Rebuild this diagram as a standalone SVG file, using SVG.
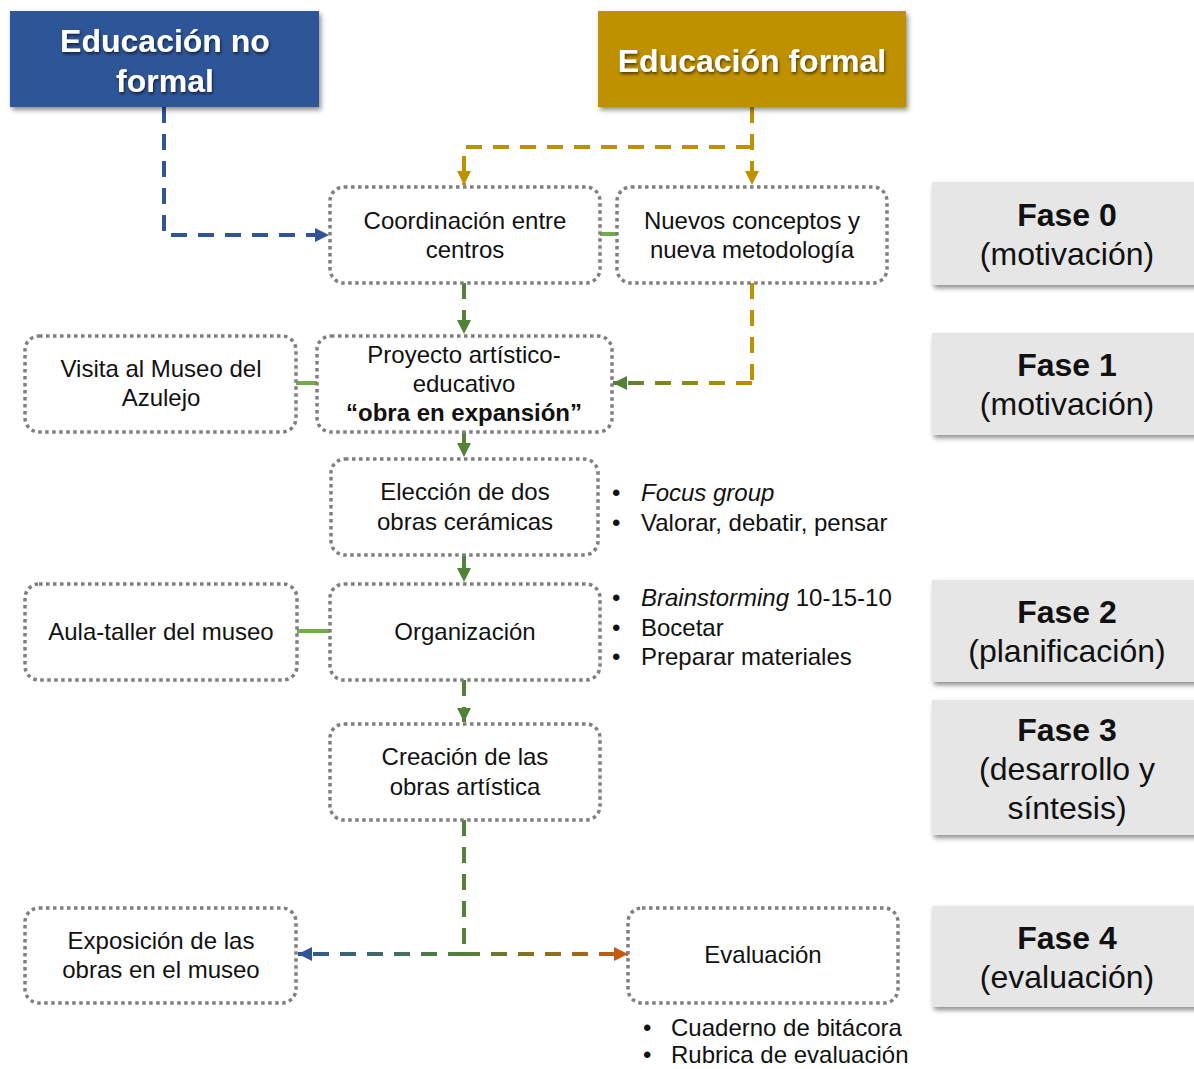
<svg xmlns="http://www.w3.org/2000/svg" width="1194" height="1069" viewBox="0 0 1194 1069">
<style>
.box{fill:#fff;stroke:#7f7f7f;stroke-width:3.5;stroke-dasharray:3.5 3.5}
.t{font-family:"Liberation Sans",Arial,sans-serif;font-size:24px;fill:#111;text-anchor:middle}
.b{font-family:"Liberation Sans",Arial,sans-serif;font-size:24px;fill:#111}
.hd{font-family:"Liberation Sans",Arial,sans-serif;font-size:32px;font-weight:bold;fill:#fff;text-anchor:middle}
.fs{font-family:"Liberation Sans",Arial,sans-serif;font-size:32px;fill:#111;text-anchor:middle}
.fase{fill:#e6e6e6}
.dash{fill:none;stroke-width:4;stroke-dasharray:16 11}
.solid{fill:none;stroke:#70ad47;stroke-width:4}
</style>
<defs>
<filter id="sh" x="-10%" y="-10%" width="130%" height="140%">
<feDropShadow dx="2" dy="3" stdDeviation="2.5" flood-color="#000" flood-opacity="0.45"/>
</filter>
<filter id="tsh" x="-10%" y="-20%" width="130%" height="160%">
<feDropShadow dx="1" dy="2" stdDeviation="1.5" flood-color="#000" flood-opacity="0.6"/>
</filter>
<marker id="mBlue" viewBox="0 0 10 10" refX="10" refY="5" markerUnits="userSpaceOnUse" markerWidth="14" markerHeight="14" orient="auto"><path d="M0,0 L10,5 L0,10 z" fill="#2f5597"/></marker>
<marker id="mGold" viewBox="0 0 10 10" refX="10" refY="5" markerUnits="userSpaceOnUse" markerWidth="14" markerHeight="14" orient="auto"><path d="M0,0 L10,5 L0,10 z" fill="#bf9000"/></marker>
<marker id="mGreen" viewBox="0 0 10 10" refX="10" refY="5" markerUnits="userSpaceOnUse" markerWidth="14" markerHeight="14" orient="auto"><path d="M0,0 L10,5 L0,10 z" fill="#538135"/></marker>
<marker id="mOrange" viewBox="0 0 10 10" refX="10" refY="5" markerUnits="userSpaceOnUse" markerWidth="14" markerHeight="14" orient="auto"><path d="M0,0 L10,5 L0,10 z" fill="#c55a11"/></marker>
<linearGradient id="gGoldGreen" gradientUnits="userSpaceOnUse" x1="752" y1="0" x2="613" y2="0"><stop offset="0" stop-color="#bf9000"/><stop offset="1" stop-color="#538135"/></linearGradient>
<linearGradient id="gGreenBlue" gradientUnits="userSpaceOnUse" x1="464" y1="0" x2="298" y2="0"><stop offset="0" stop-color="#538135"/><stop offset="1" stop-color="#2f5597"/></linearGradient>
<linearGradient id="gGreenOrange" gradientUnits="userSpaceOnUse" x1="464" y1="0" x2="628" y2="0"><stop offset="0" stop-color="#538135"/><stop offset="1" stop-color="#c55a11"/></linearGradient>
</defs>
<rect width="1194" height="1069" fill="#fff"/>

<g id="connectors">
<path class="dash" stroke="#2f5597" d="M164,107 V235 H329" marker-end="url(#mBlue)"/>
<path class="dash" stroke="#bf9000" d="M752,107 V185" marker-end="url(#mGold)"/>
<path class="dash" stroke="#bf9000" d="M752,147 H464 V185" marker-end="url(#mGold)"/>
<path class="dash" stroke="#bf9000" d="M752,283 V383"/>
<path class="dash" stroke="url(#gGoldGreen)" d="M752,383 H613" marker-end="url(#mGreen)"/>
<path class="dash" stroke="#538135" d="M464,283 V334" marker-end="url(#mGreen)"/>
<path class="dash" stroke="#538135" d="M464,432 V457" marker-end="url(#mGreen)"/>
<path class="dash" stroke="#538135" d="M464,555 V582" marker-end="url(#mGreen)"/>
<path class="dash" stroke="#538135" d="M464,680 V722" marker-end="url(#mGreen)"/>
<path class="dash" stroke="#538135" d="M464,820 V954"/>
<path class="dash" stroke="url(#gGreenBlue)" d="M464,954 H298" marker-end="url(#mBlue)"/>
<path class="dash" stroke="url(#gGreenOrange)" d="M464,954 H628" marker-end="url(#mOrange)"/>
<path class="solid" d="M600,234 H617"/>
<path class="solid" d="M296,383 H317"/>
<path class="solid" d="M297,631 H330"/>
</g>

<g id="edu-no-formal">
<rect x="10" y="11" width="309" height="96" fill="#2f5597" filter="url(#sh)"/>
<text class="hd" x="165" y="52" filter="url(#tsh)">Educación no</text>
<text class="hd" x="165" y="92" filter="url(#tsh)">formal</text>
</g>
<g id="edu-formal">
<rect x="598" y="11" width="308" height="96" fill="#bf9000" filter="url(#sh)"/>
<text class="hd" x="752" y="72" filter="url(#tsh)">Educación formal</text>
</g>

<g id="coordinacion">
<rect class="box" x="330" y="187" width="270" height="96" rx="14"/>
<text class="t" x="465" y="229">Coordinación entre</text>
<text class="t" x="465" y="258">centros</text>
</g>
<g id="nuevos">
<rect class="box" x="617" y="187" width="270" height="96" rx="14"/>
<text class="t" x="752" y="229">Nuevos conceptos y</text>
<text class="t" x="752" y="258">nueva metodología</text>
</g>
<g id="visita">
<rect class="box" x="25" y="336" width="271" height="96" rx="14"/>
<text class="t" x="161" y="377">Visita al Museo del</text>
<text class="t" x="161" y="406">Azulejo</text>
</g>
<g id="proyecto">
<rect class="box" x="317" y="336" width="295" height="96" rx="14"/>
<text class="t" x="464" y="363">Proyecto artístico-</text>
<text class="t" x="464" y="392">educativo</text>
<text class="t" x="464" y="421" font-weight="bold">“obra en expansión”</text>
</g>
<g id="eleccion">
<rect class="box" x="331" y="459" width="267" height="96" rx="14"/>
<text class="t" x="465" y="500">Elección de dos</text>
<text class="t" x="465" y="530">obras cerámicas</text>
</g>
<g id="eleccion-notes">
<text class="b" x="612" y="501">•</text><text class="b" x="641" y="501" font-style="italic">Focus group</text>
<text class="b" x="612" y="531">•</text><text class="b" x="641" y="531">Valorar, debatir, pensar</text>
</g>
<g id="aula">
<rect class="box" x="25" y="584" width="272" height="96" rx="14"/>
<text class="t" x="161" y="640">Aula-taller del museo</text>
</g>
<g id="organizacion">
<rect class="box" x="330" y="584" width="270" height="96" rx="14"/>
<text class="t" x="465" y="640">Organización</text>
</g>
<g id="organizacion-notes">
<text class="b" x="612" y="606">•</text><text class="b" x="641" y="606"><tspan font-style="italic">Brainstorming</tspan> 10-15-10</text>
<text class="b" x="612" y="636">•</text><text class="b" x="641" y="636">Bocetar</text>
<text class="b" x="612" y="665">•</text><text class="b" x="641" y="665">Preparar materiales</text>
</g>
<g id="creacion">
<rect class="box" x="330" y="724" width="270" height="96" rx="14"/>
<text class="t" x="465" y="765">Creación de las</text>
<text class="t" x="465" y="795">obras artística</text>
</g>
<g id="exposicion">
<rect class="box" x="25" y="908" width="271" height="95" rx="14"/>
<text class="t" x="161" y="949">Exposición de las</text>
<text class="t" x="161" y="978">obras en el museo</text>
</g>
<g id="evaluacion">
<rect class="box" x="628" y="908" width="270" height="95" rx="14"/>
<text class="t" x="763" y="963">Evaluación</text>
</g>
<g id="evaluacion-notes">
<text class="b" x="643" y="1036">•</text><text class="b" x="671" y="1036">Cuaderno de bitácora</text>
<text class="b" x="643" y="1063">•</text><text class="b" x="671" y="1063">Rubrica de evaluación</text>
</g>

<g id="fase0">
<rect class="fase" x="932" y="182" width="270" height="103" filter="url(#sh)"/>
<text class="fs" x="1067" y="226" font-weight="bold">Fase 0</text>
<text class="fs" x="1067" y="265">(motivación)</text>
</g>
<g id="fase1">
<rect class="fase" x="932" y="333" width="270" height="102" filter="url(#sh)"/>
<text class="fs" x="1067" y="376" font-weight="bold">Fase 1</text>
<text class="fs" x="1067" y="415">(motivación)</text>
</g>
<g id="fase2">
<rect class="fase" x="932" y="580" width="270" height="102" filter="url(#sh)"/>
<text class="fs" x="1067" y="623" font-weight="bold">Fase 2</text>
<text class="fs" x="1067" y="662">(planificación)</text>
</g>
<g id="fase3">
<rect class="fase" x="932" y="700" width="270" height="135" filter="url(#sh)"/>
<text class="fs" x="1067" y="741" font-weight="bold">Fase 3</text>
<text class="fs" x="1067" y="780">(desarrollo y</text>
<text class="fs" x="1067" y="819">síntesis)</text>
</g>
<g id="fase4">
<rect class="fase" x="932" y="906" width="270" height="101" filter="url(#sh)"/>
<text class="fs" x="1067" y="949" font-weight="bold">Fase 4</text>
<text class="fs" x="1067" y="988">(evaluación)</text>
</g>
</svg>
